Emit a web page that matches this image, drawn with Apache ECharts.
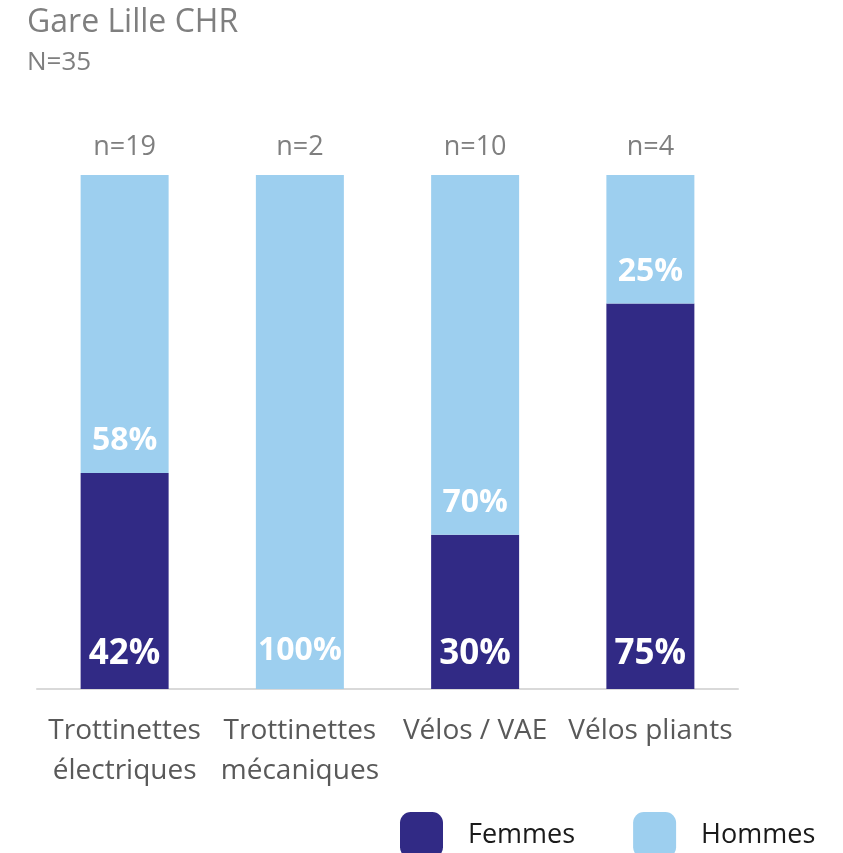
<!DOCTYPE html>
<html><head><meta charset="utf-8">
<script src="https://cdn.jsdelivr.net/npm/echarts@6/dist/echarts.min.js"></script>
<style>html,body{margin:0;padding:0;background:#fff}#c{width:843px;height:853px}</style>
</head><body><div id="c"></div>
<script>
const categories = ['Trottinettes\nélectriques', 'Trottinettes\nmécaniques', 'Vélos / VAE', 'Vélos pliants'];
const counts = ['n=19', 'n=2', 'n=10', 'n=4'];
const femmes = [42, 0, 30, 75];
const hommes = [58, 100, 70, 25];
const FONT = 'Open Sans';
const chart = echarts.init(document.getElementById('c'));
chart.setOption({
  animation: false,
  textStyle: { fontFamily: FONT },
  title: [
    { text: 'Gare Lille CHR', left: 22, top: 2, textStyle: { fontFamily: FONT, fontSize: 32, fontWeight: 'normal', color: '#7f7f7f' } },
    { text: 'N=35', left: 22, top: 45, textStyle: { fontFamily: FONT, fontSize: 26, fontWeight: 'normal', color: '#7f7f7f' } }
  ],
  legend: {
    left: 395, top: 807, itemWidth: 43, itemHeight: 46, itemGap: 58, icon: 'roundRect',
    textStyle: { fontFamily: FONT, fontSize: 27, color: '#1a1a1a', padding: [11, 0, 0, 20] },
    data: ['Femmes', 'Hommes']
  },
  grid: { left: 37, right: 105, top: 175, bottom: 164, containLabel: false },
  xAxis: [
    { type: 'category', data: categories,
      axisLine: { lineStyle: { color: '#d9d9d9', width: 2 } }, axisTick: { show: false },
      axisLabel: { fontFamily: FONT, fontSize: 28, color: '#595959', lineHeight: 40, margin: 22, interval: 0 } },
    { type: 'category', data: counts, position: 'top',
      axisLine: { show: false }, axisTick: { show: false },
      axisLabel: { fontFamily: FONT, fontSize: 27, color: '#7f7f7f', margin: 14, interval: 0 } }
  ],
  yAxis: { type: 'value', min: 0, max: 100, show: false, splitLine: { show: false } },
  series: [
    { name: 'Femmes', type: 'bar', stack: 's', data: femmes, barWidth: 88,
      itemStyle: { color: '#312a85' },
      label: { show: true, position: 'insideBottom', distance: 17, fontFamily: FONT, fontSize: 35, fontWeight: 'bold', color: '#fff',
        formatter: p => p.value ? p.value + '%' : '' } },
    { name: 'Hommes', type: 'bar', stack: 's', data: hommes.map(v => v === 100 ? { value: v, label: { distance: 22 } } : v), barWidth: 88,
      itemStyle: { color: '#9dcfef' },
      label: { show: true, position: 'insideBottom', distance: 16, fontFamily: FONT, fontSize: 32, fontWeight: 'bold', color: '#fff',
        formatter: p => p.value ? p.value + '%' : '' } }
  ]
});
</script></body></html>
